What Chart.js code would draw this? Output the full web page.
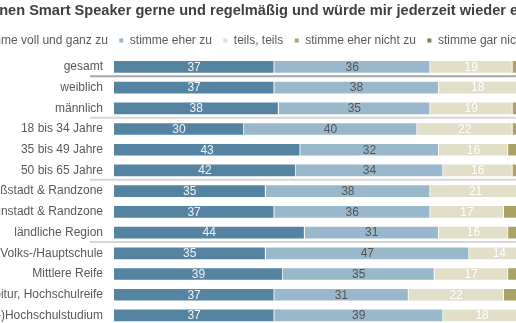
<!DOCTYPE html>
<html lang="de">
<head>
  <meta charset="UTF-8" />
  <title>Smart Speaker Zustimmung</title>
  <script src="https://cdn.jsdelivr.net/npm/chart.js"></script>
  <style>
    body { margin: 0; background: #fff; }
    #frame { position: relative; width: 516px; height: 323px; overflow: hidden; }
    #wrap { position: absolute; left: -95px; top: 0; width: 700px; height: 344px; }
  </style>
</head>
<body>
  <div id="frame">
    <div id="wrap">
      <canvas id="speakerChart"></canvas>
    </div>
  </div>

  <script>
    const categories = [
      'gesamt', 'weiblich', 'männlich',
      '18 bis 34 Jahre', '35 bis 49 Jahre', '50 bis 65 Jahre',
      'Großstadt & Randzone', 'Kleinstadt & Randzone', 'ländliche Region',
      'Volks-/Hauptschule', 'Mittlere Reife', 'Abitur, Hochschulreife', '(Fach-)Hochschulstudium'
    ];
    const seriesNames = ['stimme voll und ganz zu', 'stimme eher zu', 'teils, teils', 'stimme eher nicht zu', 'stimme gar nicht zu'];
    const vollUndGanz = [37, 37, 38, 30, 43, 42, 35, 37, 44, 35, 39, 37, 37];
    const eherZu      = [36, 38, 35, 40, 32, 34, 38, 36, 31, 47, 35, 31, 39];
    const teilsTeils  = [19, 18, 19, 22, 16, 16, 21, 17, 16, 14, 17, 22, 18];
    const eherNicht   = [6, 5, 6, 6, 6, 6, 4, 7, 6, 3, 6, 7, 4];
    const garNicht    = [2, 2, 2, 2, 3, 2, 2, 3, 3, 1, 3, 3, 2];
    // group dividers sit after these category indexes
    const dividers = [0, 2, 5, 8];

    const colors = ['#5584a3', '#99b8cb', '#e1dfc7', '#aba366', '#85785a'];
    const labelColors = ['#f2f2f2', '#555555', '#ffffff', '#ffffff', '#ffffff'];
    const font = "'Liberation Sans', Arial, sans-serif";

    const valueLabels = {
      id: 'valueLabels',
      afterDatasetsDraw(chart) {
        const c = chart.ctx;
        c.save();
        c.font = '12px ' + font;
        c.textAlign = 'center';
        c.textBaseline = 'middle';
        chart.data.datasets.forEach((ds, di) => {
          const meta = chart.getDatasetMeta(di);
          meta.data.forEach((bar, i) => {
            if (ds.data[i] < 5) return;
            c.fillStyle = labelColors[di];
            c.fillText(ds.data[i], (bar.x + bar.base) / 2, bar.y + 0.5);
          });
        });
        c.restore();
      }
    };

    const groupLines = {
      id: 'groupLines',
      afterDatasetsDraw(chart) {
        const c = chart.ctx;
        const y = chart.scales.y;
        c.save();
        dividers.forEach((idx, n) => {
          const py = (y.getPixelForValue(idx) + y.getPixelForValue(idx + 1)) / 2 - 1;
          c.strokeStyle = n === 0 ? '#a6a6a6' : '#d6d6d6';
          c.lineWidth = 2;
          c.beginPath();
          c.moveTo(185, py);
          c.lineTo(chart.width, py);
          c.stroke();
        });
        c.restore();
      }
    };

    const allSeries = [vollUndGanz, eherZu, teilsTeils, eherNicht, garNicht];

    new Chart(document.getElementById('speakerChart'), {
      type: 'bar',
      data: {
        labels: categories,
        datasets: allSeries.map((vals, i) => ({
          label: seriesNames[i],
          data: vals,
          backgroundColor: colors[i],
          borderColor: '#ffffff',
          borderWidth: 1,
          barThickness: 13
        }))
      },
      options: {
        indexAxis: 'y',
        responsive: true,
        maintainAspectRatio: false,
        animation: false,
        layout: { padding: { left: 0, right: 0, top: 1, bottom: 0 } },
        scales: {
          x: { stacked: true, min: 0, max: 100, display: false },
          y: {
            stacked: true,
            grid: { display: false, drawTicks: false },
            border: { display: false },
            ticks: { color: '#595959', font: { family: font, size: 12 }, padding: 11 },
            afterFit(scale) { scale.width = 209; }
          },
          // empty strip on the right, keeps the bars short of the legend's full width
          yRight: {
            type: 'category',
            position: 'right',
            grid: { display: false, drawTicks: false },
            border: { display: false },
            ticks: { display: false },
            afterFit(scale) { scale.width = 58; }
          }
        },
        plugins: {
          title: {
            display: true,
            text: 'Ich nutze meinen Smart Speaker gerne und regelmäßig und würde mir jederzeit wieder einen kaufen.',
            color: '#404040',
            font: { family: font, size: 14.6, weight: 'bold' },
            padding: { top: 1, bottom: 4 }
          },
          legend: {
            position: 'top',
            labels: {
              color: '#595959',
              font: { family: font, size: 12 },
              boxWidth: 5,
              boxHeight: 5,
              padding: 11
            }
          },
          tooltip: { enabled: false }
        }
      },
      plugins: [valueLabels, groupLines]
    });
  </script>
</body>
</html>
